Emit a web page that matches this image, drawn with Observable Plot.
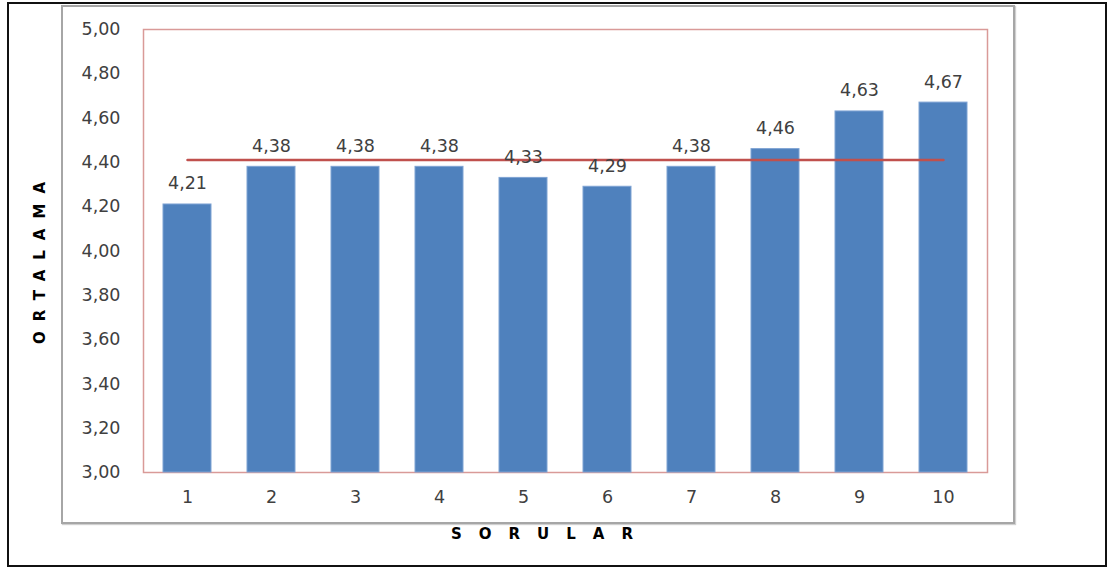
<!DOCTYPE html>
<html>
<head>
<meta charset="utf-8">
<script src="https://cdn.jsdelivr.net/npm/d3@7"></script>
<script src="https://cdn.jsdelivr.net/npm/@observablehq/plot@0.6"></script>
<style>
  html, body { margin: 0; padding: 0; background: #fff; }
  #wrap { position: relative; width: 1113px; height: 572px; overflow: hidden; }
  #outer { position: absolute; left: 7px; top: 2px; width: 1100px; height: 565px; border: 2px solid #111; box-sizing: border-box; }
  #inner { position: absolute; left: 61px; top: 5px; width: 954px; height: 519px; border: 2px solid #a6a6a6; box-sizing: border-box; box-shadow: 1px 1px 1px #d0d0d0; }
  #chart { position: absolute; left: 0; top: 0; }
  text[aria-label="xlabel"] { letter-spacing: 17px; }
  text[aria-label="ylabel"] { letter-spacing: 10px; }
</style>
</head>
<body>
<div id="wrap">
  <div id="outer"></div>
  <div id="inner"></div>
  <div id="chart"></div>
</div>
<script>
const questions = ["1", "2", "3", "4", "5", "6", "7", "8", "9", "10"];
const means = [4.21, 4.38, 4.38, 4.38, 4.33, 4.29, 4.38, 4.46, 4.63, 4.67];
const yTicks = [3.0, 3.2, 3.4, 3.6, 3.8, 4.0, 4.2, 4.4, 4.6, 4.8, 5.0];
const xTitle = "SORULAR";
const yTitle = "ORTALAMA";

const data = questions.map((q, i) => ({q, v: means[i]}));
const overall = d3.mean(means);
const fmt = d => d.toFixed(2).replace(".", ",");

const chart = Plot.plot({
  width: 1113,
  height: 572,
  marginTop: 29,
  marginRight: 126,
  marginBottom: 100,
  marginLeft: 143,
  style: { fontFamily: "'DejaVu Sans', Verdana, sans-serif", fontSize: "17.5px", color: "#404040", background: "transparent" },
  x: { type: "band", domain: questions, paddingInner: 0.43, paddingOuter: 0.215 },
  y: { domain: [3, 5] },
  marks: [
    Plot.frame({ stroke: "#d99a98", strokeWidth: 1.5 }),
    Plot.barY(data, { x: "q", y1: 3, y2: "v", fill: "#4f81bd", stroke: "#7ea3d3", strokeWidth: 1 }),
    Plot.lineY(questions, { x: d => d, y: () => overall, stroke: "#c0504d", strokeWidth: 2.5 }),
    Plot.text(data, { x: "q", y: "v", text: d => fmt(d.v), lineAnchor: "bottom", dy: -15, fill: "#404040", fontSize: 17.5 }),
    Plot.axisY(yTicks, { tickSize: 0, tickPadding: 23, tickFormat: fmt, label: null, fill: "#404040" }),
    Plot.axisX({ tickSize: 0, tickPadding: 18, label: null, fill: "#404040" }),
    Plot.text([xTitle], { frameAnchor: "bottom", dy: 66, dx: -15, text: d => d, fontWeight: "bold", fontSize: 15, fill: "#000", ariaLabel: () => "xlabel" }),
    Plot.text([yTitle], { frameAnchor: "left", dx: -103, dy: 93, rotate: -90, text: d => d, fontWeight: "bold", fontSize: 15, fill: "#000", ariaLabel: () => "ylabel" })
  ]
});
document.getElementById("chart").appendChild(chart);
</script>
</body>
</html>
